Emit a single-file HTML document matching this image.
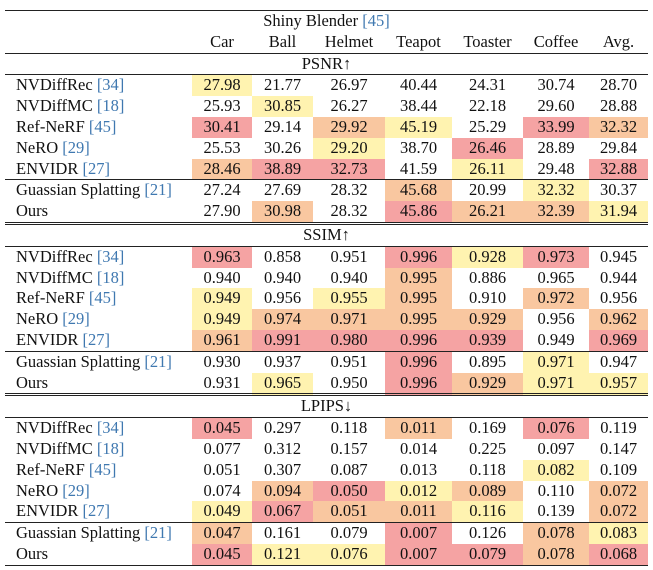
<!DOCTYPE html>
<html><head><meta charset="utf-8"><style>
body{margin:0;background:#fff;width:653px;height:570px;overflow:hidden}
table{position:absolute;left:5px;top:10px;width:643px;border-collapse:collapse;table-layout:fixed;font-family:"Liberation Serif",serif;font-size:16.5px;color:#111}
td{height:20.8px;padding:0;text-align:center;vertical-align:middle;line-height:20.8px;white-space:nowrap}
td:first-child{text-align:left;padding-left:11px}
td.m{text-align:center;padding-left:0}
.c{color:#3f78b0}
.r{background:#f5a3a3}.o{background:#f9c7a0}.y{background:#fff3b0}
tr.top td{border-top:1.5px solid #222}
tr.bt td{border-bottom:1px solid #222}
tr.db td{border-bottom:3px double #222}
tr.bot td{border-bottom:1.5px solid #222}
</style></head><body>
<table>
<colgroup><col style="width:187px"><col style="width:60px"><col style="width:61px"><col style="width:72px"><col style="width:67px"><col style="width:71px"><col style="width:66px"><col style="width:59px"></colgroup>
<tr class="top"><td colspan="8" class="m">Shiny Blender <span class="c">[45]</span></td></tr>
<tr class="bt"><td></td><td>Car</td><td>Ball</td><td>Helmet</td><td>Teapot</td><td>Toaster</td><td>Coffee</td><td>Avg.</td></tr>
<tr class="bt"><td colspan="8" class="m">PSNR↑</td></tr>
<tr><td>NVDiffRec <span class="c">[34]</span></td><td class="y">27.98</td><td>21.77</td><td>26.97</td><td>40.44</td><td>24.31</td><td>30.74</td><td>28.70</td></tr>
<tr><td>NVDiffMC <span class="c">[18]</span></td><td>25.93</td><td class="y">30.85</td><td>26.27</td><td>38.44</td><td>22.18</td><td>29.60</td><td>28.88</td></tr>
<tr><td>Ref-NeRF <span class="c">[45]</span></td><td class="r">30.41</td><td>29.14</td><td class="o">29.92</td><td class="y">45.19</td><td>25.29</td><td class="r">33.99</td><td class="o">32.32</td></tr>
<tr><td>NeRO <span class="c">[29]</span></td><td>25.53</td><td>30.26</td><td class="y">29.20</td><td>38.70</td><td class="r">26.46</td><td>28.89</td><td>29.84</td></tr>
<tr class="bt"><td>ENVIDR <span class="c">[27]</span></td><td class="o">28.46</td><td class="r">38.89</td><td class="r">32.73</td><td>41.59</td><td class="y">26.11</td><td>29.48</td><td class="r">32.88</td></tr>
<tr><td>Guassian Splatting <span class="c">[21]</span></td><td>27.24</td><td>27.69</td><td>28.32</td><td class="o">45.68</td><td>20.99</td><td class="y">32.32</td><td>30.37</td></tr>
<tr class="db"><td>Ours</td><td>27.90</td><td class="o">30.98</td><td>28.32</td><td class="r">45.86</td><td class="o">26.21</td><td class="o">32.39</td><td class="y">31.94</td></tr>
<tr class="bt"><td colspan="8" class="m">SSIM↑</td></tr>
<tr><td>NVDiffRec <span class="c">[34]</span></td><td class="r">0.963</td><td>0.858</td><td>0.951</td><td class="r">0.996</td><td class="y">0.928</td><td class="r">0.973</td><td>0.945</td></tr>
<tr><td>NVDiffMC <span class="c">[18]</span></td><td>0.940</td><td>0.940</td><td>0.940</td><td class="o">0.995</td><td>0.886</td><td>0.965</td><td>0.944</td></tr>
<tr><td>Ref-NeRF <span class="c">[45]</span></td><td class="y">0.949</td><td>0.956</td><td class="y">0.955</td><td class="o">0.995</td><td>0.910</td><td class="o">0.972</td><td>0.956</td></tr>
<tr><td>NeRO <span class="c">[29]</span></td><td class="y">0.949</td><td class="o">0.974</td><td class="o">0.971</td><td class="o">0.995</td><td class="o">0.929</td><td>0.956</td><td class="o">0.962</td></tr>
<tr class="bt"><td>ENVIDR <span class="c">[27]</span></td><td class="o">0.961</td><td class="r">0.991</td><td class="r">0.980</td><td class="r">0.996</td><td class="r">0.939</td><td>0.949</td><td class="r">0.969</td></tr>
<tr><td>Guassian Splatting <span class="c">[21]</span></td><td>0.930</td><td>0.937</td><td>0.951</td><td class="r">0.996</td><td>0.895</td><td class="y">0.971</td><td>0.947</td></tr>
<tr class="db"><td>Ours</td><td>0.931</td><td class="y">0.965</td><td>0.950</td><td class="r">0.996</td><td class="o">0.929</td><td class="y">0.971</td><td class="y">0.957</td></tr>
<tr class="bt"><td colspan="8" class="m">LPIPS↓</td></tr>
<tr><td>NVDiffRec <span class="c">[34]</span></td><td class="r">0.045</td><td>0.297</td><td>0.118</td><td class="o">0.011</td><td>0.169</td><td class="r">0.076</td><td>0.119</td></tr>
<tr><td>NVDiffMC <span class="c">[18]</span></td><td>0.077</td><td>0.312</td><td>0.157</td><td>0.014</td><td>0.225</td><td>0.097</td><td>0.147</td></tr>
<tr><td>Ref-NeRF <span class="c">[45]</span></td><td>0.051</td><td>0.307</td><td>0.087</td><td>0.013</td><td>0.118</td><td class="y">0.082</td><td>0.109</td></tr>
<tr><td>NeRO <span class="c">[29]</span></td><td>0.074</td><td class="o">0.094</td><td class="r">0.050</td><td class="y">0.012</td><td class="o">0.089</td><td>0.110</td><td class="o">0.072</td></tr>
<tr class="bt"><td>ENVIDR <span class="c">[27]</span></td><td class="y">0.049</td><td class="r">0.067</td><td class="o">0.051</td><td class="o">0.011</td><td class="y">0.116</td><td>0.139</td><td class="o">0.072</td></tr>
<tr><td>Guassian Splatting <span class="c">[21]</span></td><td class="o">0.047</td><td>0.161</td><td>0.079</td><td class="r">0.007</td><td>0.126</td><td class="o">0.078</td><td class="y">0.083</td></tr>
<tr class="bot"><td>Ours</td><td class="r">0.045</td><td class="y">0.121</td><td class="y">0.076</td><td class="r">0.007</td><td class="r">0.079</td><td class="o">0.078</td><td class="r">0.068</td></tr>
</table>
</body></html>
